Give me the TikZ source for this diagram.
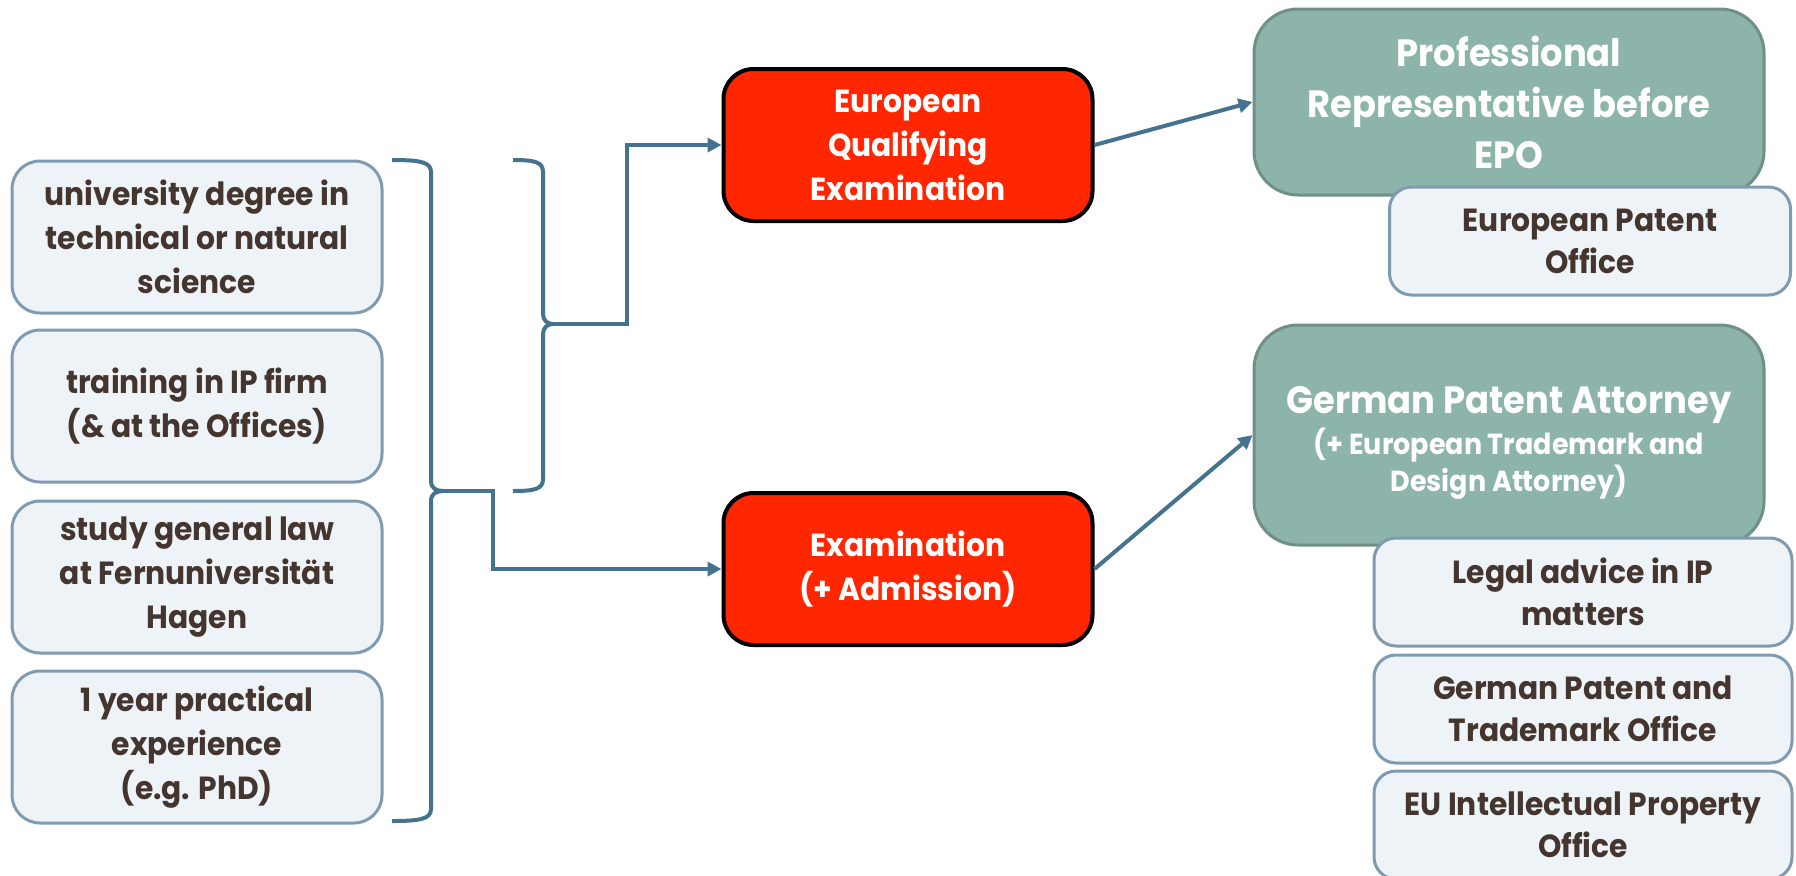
\documentclass[tikz,border=0pt]{standalone}
\usepackage{fontspec}
\setmainfont{Poppins}[FakeStretch=0.93]
\usetikzlibrary{arrows.meta}
\definecolor{txt}{HTML}{44362F}
\definecolor{lfill}{HTML}{EEF3F8}
\definecolor{lborder}{HTML}{7E9BB1}
\definecolor{tealf}{HTML}{8CB4AB}
\definecolor{tealb}{HTML}{6F8F87}
\definecolor{redf}{HTML}{FF2600}
\definecolor{conn}{HTML}{44728F}
\tikzset{
  lbox/.style={draw=lborder, line width=1.5pt, fill=lfill, rounded corners=14pt,
    minimum width=185pt, minimum height=76pt, align=center, text=txt, inner sep=0pt,
    font=\bfseries\fontsize{16}{22}\selectfont},
  redbox/.style={draw=black, line width=2pt, fill=redf, rounded corners=15pt,
    minimum width=184.5pt, minimum height=76pt, align=center, text=white, inner sep=0pt,
    font=\bfseries\fontsize{16}{22}\selectfont},
  tbox/.style={draw=tealb, line width=1.5pt, fill=tealf, rounded corners=22pt,
    minimum width=255pt, align=center, text=white, inner sep=0pt,
    font=\bfseries\fontsize{19}{25.5}\selectfont},
  sbox/.style={draw=lborder, line width=1.5pt, fill=lfill, rounded corners=11pt,
    minimum height=54pt, align=center, text=txt, inner sep=0pt,
    font=\bfseries\fontsize{16}{21}\selectfont},
  connline/.style={draw=conn, line width=2pt},
  connarrow/.style={connline, -{Triangle[length=7pt,width=7pt]}},
  bracepath/.style={draw=conn, line width=2pt},
}
\begin{document}
\begin{tikzpicture}[x=0.5pt,y=-0.5pt]
\useasboundingbox (0,0) rectangle (1796,875);
% left boxes
\node[lbox] (b1) at (197,237) {university degree in\\technical or natural\\science};
\node[lbox] (b2) at (197,406) {training in IP firm\\ (\& at the Offices)};
\node[lbox] (b3) at (197,577) {study general law\\at Fernuniversität\\Hagen};
\node[lbox] (b4) at (197,747) {1 year practical\\experience\\ (e.g. PhD)};
% red boxes
\node[redbox] (eqe) at (908,145) {European\\Qualifying\\Examination};
\node[redbox] (exam) at (908,569) {Examination\\(+ Admission)};
% teal boxes
\node[tbox, minimum height=93pt] (prorep) at (1509,102) {Professional\\Representative before\\EPO};
\node[sbox, minimum width=200.5pt] (epo) at (1590,241) {European Patent\\Office};
\node[tbox, minimum height=110pt, text height=12pt] (gpa) at (1509,435) {};
\node[text=white, font=\bfseries\fontsize{19}{25.5}\selectfont, inner sep=0pt, anchor=base] (gpat) at (1509,413) {German Patent Attorney};
\node[text=white, font=\bfseries\fontsize{14.5}{18.5}\selectfont, inner sep=0pt, anchor=base] (gpas1) at (1509,454) {(+ European Trademark and};
\node[text=white, font=\bfseries\fontsize{14.5}{18.5}\selectfont, inner sep=0pt, anchor=base] (gpas2) at (1509,491) {Design Attorney)};
\node[sbox, minimum width=209pt] (legal) at (1583,592) {Legal advice in IP\\matters};
\node[sbox, minimum width=209pt] (gpto) at (1583,709) {German Patent and\\Trademark Office};
\node[sbox, minimum width=209pt] (euipo) at (1583,825) {EU Intellectual Property\\Office};
% braces
\coordinate (bbc) at (443,491);
\coordinate (sbc) at (553,324);
\draw[bracepath] (392,160) .. controls (420,160) and (431,162) .. (431,172) -- (431,481)
  .. controls (431,488) and (436,491) .. (bbc) .. controls (436,491) and (431,494) .. (431,501)
  -- (431,809) .. controls (431,819) and (420,821) .. (392,821);
\draw[bracepath] (513,160) .. controls (535,160) and (543,162) .. (543,172) -- (543,314)
  .. controls (543,321) and (548,324) .. (sbc) .. controls (548,324) and (543,327) .. (543,334)
  -- (543,479) .. controls (543,489) and (535,491) .. (513,491);
% connectors
\draw[connarrow] (bbc) -- ++(50,0) |- (exam.west);
\draw[connarrow] (sbc) -- ++(74,0) |- (eqe.west);
\draw[connarrow] (eqe.east) -- (prorep.west);
\draw[connarrow] (exam.east) -- (gpa.west);
\end{tikzpicture}
\end{document}
